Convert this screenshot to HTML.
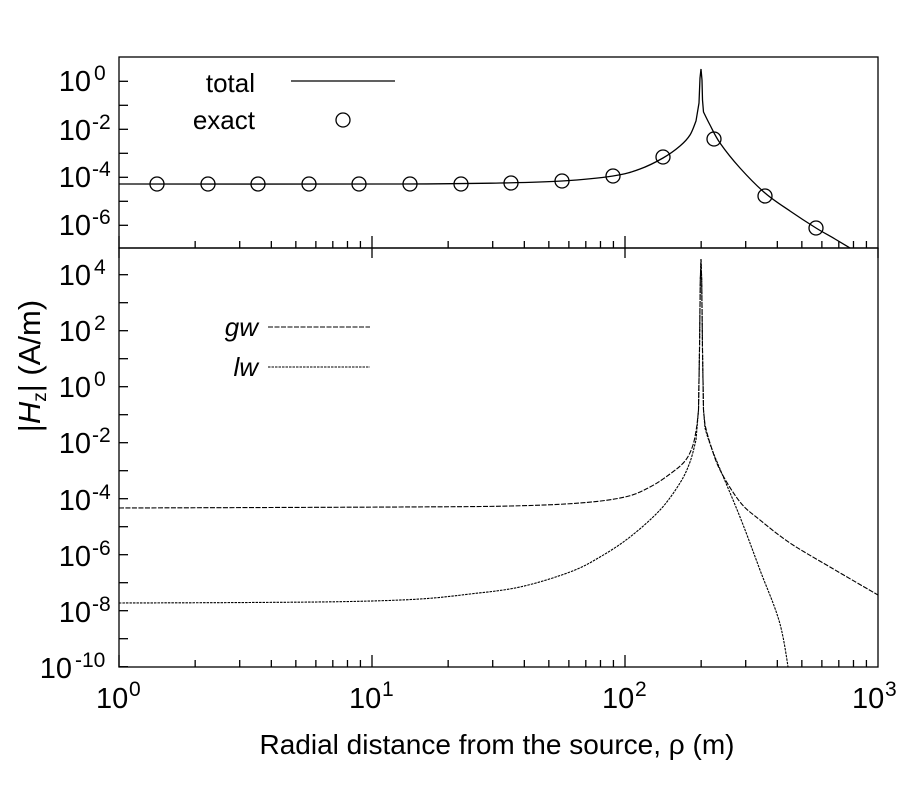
<!DOCTYPE html>
<html><head><meta charset="utf-8"><style>body{margin:0;background:#fff}svg{display:block}</style></head><body>
<svg id="s" width="900" height="800" xmlns="http://www.w3.org/2000/svg" font-family="Liberation Sans, sans-serif">
<rect width="900" height="800" fill="#fff"/>
<g id="g" fill="none" stroke="#000" stroke-width="1.3"></g>
<g font-size="29" fill="#000">
<text x="91" y="91" text-anchor="end">10</text><text x="94" y="80" font-size="21">0</text>
<text x="91" y="140" text-anchor="end">10</text><text x="92" y="129" font-size="21">-2</text>
<text x="91" y="187" text-anchor="end">10</text><text x="92" y="176" font-size="21">-4</text>
<text x="91" y="235" text-anchor="end">10</text><text x="92" y="224" font-size="21">-6</text>
<text x="91" y="285" text-anchor="end">10</text><text x="94" y="274" font-size="21">4</text>
<text x="91" y="341" text-anchor="end">10</text><text x="94" y="330" font-size="21">2</text>
<text x="91" y="397" text-anchor="end">10</text><text x="94" y="386" font-size="21">0</text>
<text x="91" y="453" text-anchor="end">10</text><text x="92" y="442" font-size="21">-2</text>
<text x="91" y="510" text-anchor="end">10</text><text x="92" y="499" font-size="21">-4</text>
<text x="91" y="566" text-anchor="end">10</text><text x="92" y="555" font-size="21">-6</text>
<text x="91" y="622" text-anchor="end">10</text><text x="92" y="611" font-size="21">-8</text>
<text x="72" y="678" text-anchor="end">10</text><text x="75" y="667" font-size="21">-10</text>
<text x="96" y="708">10</text><text x="129" y="696" font-size="21">0</text>
<text x="349" y="708">10</text><text x="382" y="696" font-size="21">1</text>
<text x="602" y="708">10</text><text x="635" y="696" font-size="21">2</text>
<text x="852" y="708">10</text><text x="885" y="696" font-size="21">3</text>
<text x="497" y="754" text-anchor="middle" font-size="28">Radial distance from the source, ρ (m)</text>
<g transform="translate(40,366) rotate(-90)"><text text-anchor="middle" font-size="31">|<tspan font-style="italic">H</tspan><tspan font-size="19" dy="6">z</tspan><tspan dy="-6">| (A/m)</tspan></text></g>
<text x="255" y="92" text-anchor="end" font-size="26">total</text>
<text x="255" y="129" text-anchor="end" font-size="26">exact</text>
<text x="258" y="336" text-anchor="end" font-size="26" font-style="italic">gw</text>
<text x="258" y="376" text-anchor="end" font-size="26" font-style="italic">lw</text>
</g>
</svg>
<script>
var g=document.getElementById('g'),NS='http://www.w3.org/2000/svg';
function el(t,a){var e=document.createElementNS(NS,t);for(var k in a)e.setAttribute(k,a[k]);g.appendChild(e);return e;}
function pl(p,extra){var a={points:p.map(function(q){return q.join(',')}).join(' ')};for(var k in extra)a[k]=extra[k];return el('polyline',a);}
function cr(p){var d='M'+p[0][0]+','+p[0][1];for(var i=0;i<p.length-1;i++){var p0=p[Math.max(0,i-1)],p1=p[i],p2=p[i+1],p3=p[Math.min(p.length-1,i+2)];
d+=' C'+(p1[0]+(p2[0]-p0[0])/6)+','+(p1[1]+(p2[1]-p0[1])/6)+' '+(p2[0]-(p3[0]-p1[0])/6)+','+(p2[1]-(p3[1]-p1[1])/6)+' '+p2[0]+','+p2[1];}return d;}
function curve(L,S,R,extra){var d=cr(L)+' L'+S.map(function(q){return q.join(',')}).join(' L')+' '+cr(R).replace('M','L');var a={d:d};for(var k in extra)a[k]=extra[k];return el('path',a);}
el('rect',{x:119,y:57,width:759,height:191});
el('rect',{x:119,y:248,width:759,height:419});
for(var d=0;d<3;d++)for(var m=1;m<10;m++){var x=119+253*(d+Math.log10(m));var L=m==1?12:7;
 el('line',{x1:x,y1:248,x2:x,y2:248-L});el('line',{x1:x,y1:667,x2:x,y2:667-L});if(m==1)el('line',{x1:x,y1:248,x2:x,y2:258});}
el('line',{x1:878,y1:248,x2:878,y2:258});
for(var i=-7;i<=0;i++){var y=81.3-24*i;if(y>57&&y<248)el('line',{x1:119,y1:y,x2:128,y2:y});}
for(var i=-10;i<=4;i++){var y=386.7-28*i;if(y>248&&y<667)el('line',{x1:119,y1:y,x2:128,y2:y});}
var cp=document.createElementNS(NS,'clipPath');cp.setAttribute('id','c1');var r=document.createElementNS(NS,'rect');
r.setAttribute('x',119);r.setAttribute('y',57);r.setAttribute('width',759);r.setAttribute('height',191);cp.appendChild(r);g.appendChild(cp);
var cp2=document.createElementNS(NS,'clipPath');cp2.setAttribute('id','c2');var r2=document.createElementNS(NS,'rect');
r2.setAttribute('x',119);r2.setAttribute('y',248);r2.setAttribute('width',759);r2.setAttribute('height',419);cp2.appendChild(r2);g.appendChild(cp2);
curve([[119,184],[400,184],[500,183],[562,181],[613,176],[640,169],[663,158],[680,146],[690,135],[696,121]],
 [[699,103],[700,78],[701,69],[702,80],[702.5,100]],
 [[703.5,112],[710,125],[720,143],[740,168],[765,193],[790,211],[816,228],[835,239],[860,254]],{'clip-path':'url(#c1)'});
[157,208,258,309,359,410,461].forEach(function(x){el('circle',{cx:x,cy:184,r:7});});
[[511,183],[562,181],[613,176],[663,157],[714,139],[765,196],[816,228]].forEach(function(c){el('circle',{cx:c[0],cy:c[1],r:7});});
pl([[291,81],[395,81]]);el('circle',{cx:343,cy:120,r:7});
curve([[119,508],[400,507],[510,506],[580,503],[625,497],[650,487],[670,474],[685,461],[693,445],[697,425]],
 [[698.5,410],[699.5,350],[700.3,280],[701,259],[701.7,280],[702.5,350],[703.5,410]],
 [[705,425],[710,443],[720,470],[740,502],[760,520],[790,543],[830,567],[878,595]],{'stroke-width':1.1,'stroke-dasharray':'5 1.5','clip-path':'url(#c2)'});
curve([[119,603],[250,602.5],[350,601.5],[420,599],[470,594],[520,587],[570,572],[600,557],[630,537],[660,510],[680,483],[690,462],[696,440]],
 [[698.5,410],[699.5,350],[700.3,280],[701,259],[701.7,280],[702.5,350],[703.5,410]],
 [[705,428],[708,438],[715,457],[740,517],[760,570],[780,624],[790,680]],{'stroke-width':1.1,'stroke-dasharray':'2.5 1','clip-path':'url(#c2)'});
pl([[268,327],[370,327]],{'stroke-width':1.1,'stroke-dasharray':'5 1.5'});
pl([[268,367],[370,367]],{'stroke-width':1.1,'stroke-dasharray':'2.5 1'});
</script>
</body></html>
